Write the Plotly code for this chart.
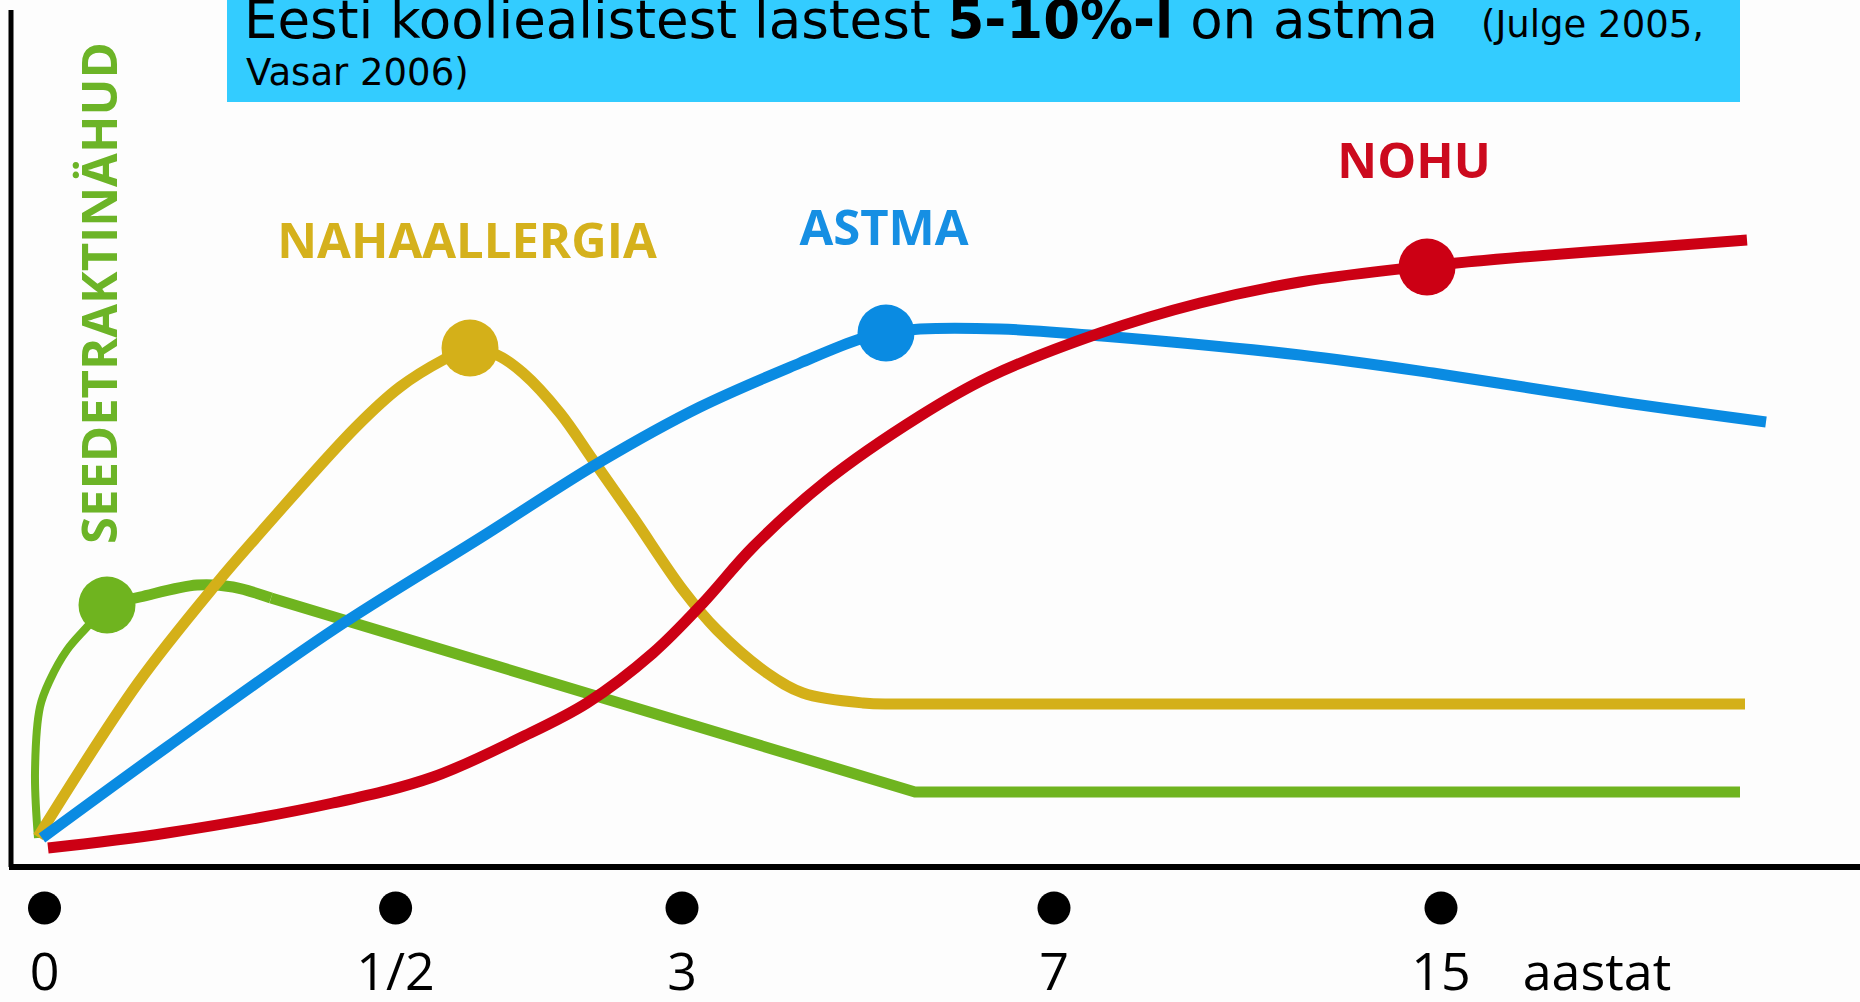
import plotly.graph_objects as go

# ---------------- data (schematic units: x = time position, y = level) ----------------
green_rise_x = [27, 24, 29, 39, 56, 76, 96]
green_rise_y = [29, 94, 160, 187, 217, 240, 262]
green_arc_x = [96, 129, 186, 222, 260]
green_arc_y = [262, 270, 282, 280, 269]
green_fall_x = [260, 904, 1729]
green_fall_y = [269, 75, 75]

gold_x = [27, 127, 206, 243, 345, 389, 432, 459, 486, 512, 549, 582, 622, 672, 706, 756, 792, 852, 889, 1734]
gold_y = [30, 184, 284, 327, 440, 480, 507, 519, 512, 494, 454, 407, 350, 277, 237, 194, 174, 164, 163, 163]

blue_x = [31, 156, 322, 469, 589, 689, 789, 849, 875, 909, 989, 1091, 1289, 1422, 1609, 1755]
blue_y = [29, 120, 237, 329, 405, 460, 504, 528, 534, 538, 538, 531, 512, 494, 465, 445]

red_x = [37, 156, 322, 422, 509, 576, 642, 692, 742, 814, 909, 978, 1089, 1189, 1289, 1416, 1512, 1631, 1736]
red_y = [19, 34, 64, 90, 129, 164, 214, 264, 320, 385, 451, 490, 534, 564, 585, 601, 610, 619, 627]

# onset markers (peak of each condition)
peak_names = ["SEEDETRAKTINÄHUD", "NAHAALLERGIA", "ASTMA", "NOHU"]
peak_x = [96, 459, 875, 1416]
peak_y = [262, 519, 534, 600]

# condition label positions
label_x = [87, 456, 873, 1403]
label_y = [574, 621, 634, 701]

# age axis
age_labels = ["0", "1/2", "3", "7", "15"]
age_pos = [33.5, 384.6, 671, 1043, 1430]
unit_label = "aastat"
unit_pos = 1586

COL_GREEN = "#6fb41f"
COL_GOLD = "#d4b019"
COL_BLUE = "#0a8be2"
COL_RED = "#cc0014"
LAB_GREEN = "#6cb427"
LAB_GOLD = "#d5b11c"
LAB_BLUE = "#168fe3"
LAB_RED = "#cc0a1e"

fig = go.Figure()

# axes (drawn as lines in data space)
fig.add_trace(go.Scatter(x=[0, 0], y=[857, 0], mode="lines",
                         line=dict(color="black", width=5), hoverinfo="skip"))
fig.add_trace(go.Scatter(x=[-2, 1849], y=[0, 0], mode="lines",
                         line=dict(color="black", width=6), hoverinfo="skip"))

# curves
fig.add_trace(go.Scatter(x=green_rise_x, y=green_rise_y, mode="lines",
                         line=dict(color=COL_GREEN, width=8, shape="spline", smoothing=1.0),
                         hoverinfo="skip"))
fig.add_trace(go.Scatter(x=green_arc_x, y=green_arc_y, mode="lines",
                         line=dict(color=COL_GREEN, width=11, shape="spline", smoothing=1.0),
                         hoverinfo="skip"))
fig.add_trace(go.Scatter(x=green_fall_x, y=green_fall_y, mode="lines",
                         line=dict(color=COL_GREEN, width=11, shape="linear"),
                         hoverinfo="skip"))
for xs, ys, col, w in [(gold_x, gold_y, COL_GOLD, 11),
                       (blue_x, blue_y, COL_BLUE, 11), (red_x, red_y, COL_RED, 11)]:
    fig.add_trace(go.Scatter(x=xs, y=ys, mode="lines",
                             line=dict(color=col, width=w, shape="spline", smoothing=1.0),
                             hoverinfo="skip"))

# markers
fig.add_trace(go.Scatter(x=peak_x, y=peak_y, mode="markers",
                         marker=dict(size=57, color=[COL_GREEN, COL_GOLD, COL_BLUE, COL_RED],
                                     line=dict(width=0)),
                         hoverinfo="skip"))

# condition labels (horizontal ones)
fig.add_trace(go.Scatter(x=label_x[1:], y=label_y[1:], mode="text",
                         text=peak_names[1:], textposition="middle center",
                         textfont=dict(family="Open Sans", size=49, weight="bold",
                                       color=[LAB_GOLD, LAB_BLUE, LAB_RED]),
                         hoverinfo="skip"))

# vertical label
fig.add_annotation(x=label_x[0], y=label_y[0], xref="x", yref="y",
                   text=peak_names[0], textangle=-90, showarrow=False,
                   xanchor="center", yanchor="middle",
                   font=dict(family="Open Sans", size=49, weight="bold", color=LAB_GREEN))

# age tick dots
fig.add_trace(go.Scatter(x=age_pos, y=[-41] * len(age_pos), mode="markers",
                         marker=dict(size=33, color="black"), hoverinfo="skip"))

# age tick labels
fig.add_trace(go.Scatter(x=age_pos + [unit_pos], y=[-110] * (len(age_pos) + 1), mode="text",
                         text=age_labels + [unit_label], textposition="middle center",
                         textfont=dict(family="Open Sans", size=52, color="black"),
                         hoverinfo="skip"))

# title box
fig.add_shape(type="rect", xref="x", yref="y", x0=216, x1=1729, y0=765, y1=880,
              fillcolor="#33ccff", line=dict(width=0), layer="below")

# title texts
fig.add_trace(go.Scatter(x=[233], y=[842.25], mode="text",
                         text=["Eesti kooliealistest lastest <b>5-10%-l</b> on astma"],
                         textposition="middle right",
                         textfont=dict(family="DejaVu Sans", size=53, color="black"),
                         hoverinfo="skip", cliponaxis=False))
fig.add_trace(go.Scatter(x=[1470, 235], y=[839, 791], mode="text",
                         text=["(Julge 2005,", "Vasar 2006)"],
                         textposition="middle right",
                         textfont=dict(family="DejaVu Sans", size=37, color="black"),
                         hoverinfo="skip", cliponaxis=False))

fig.update_layout(
    width=1860, height=1002,
    margin=dict(l=0, r=0, t=0, b=0, pad=0),
    paper_bgcolor="#fdfdfd", plot_bgcolor="#fdfdfd",
    showlegend=False,
    xaxis=dict(range=[-11, 1849], visible=False, fixedrange=True),
    yaxis=dict(range=[-135, 867], visible=False, fixedrange=True),
)

fig.write_html(
    "out.html",
    config={"displayModeBar": False},
    post_script="document.body.style.margin='0';document.body.style.overflow='hidden';",
)
